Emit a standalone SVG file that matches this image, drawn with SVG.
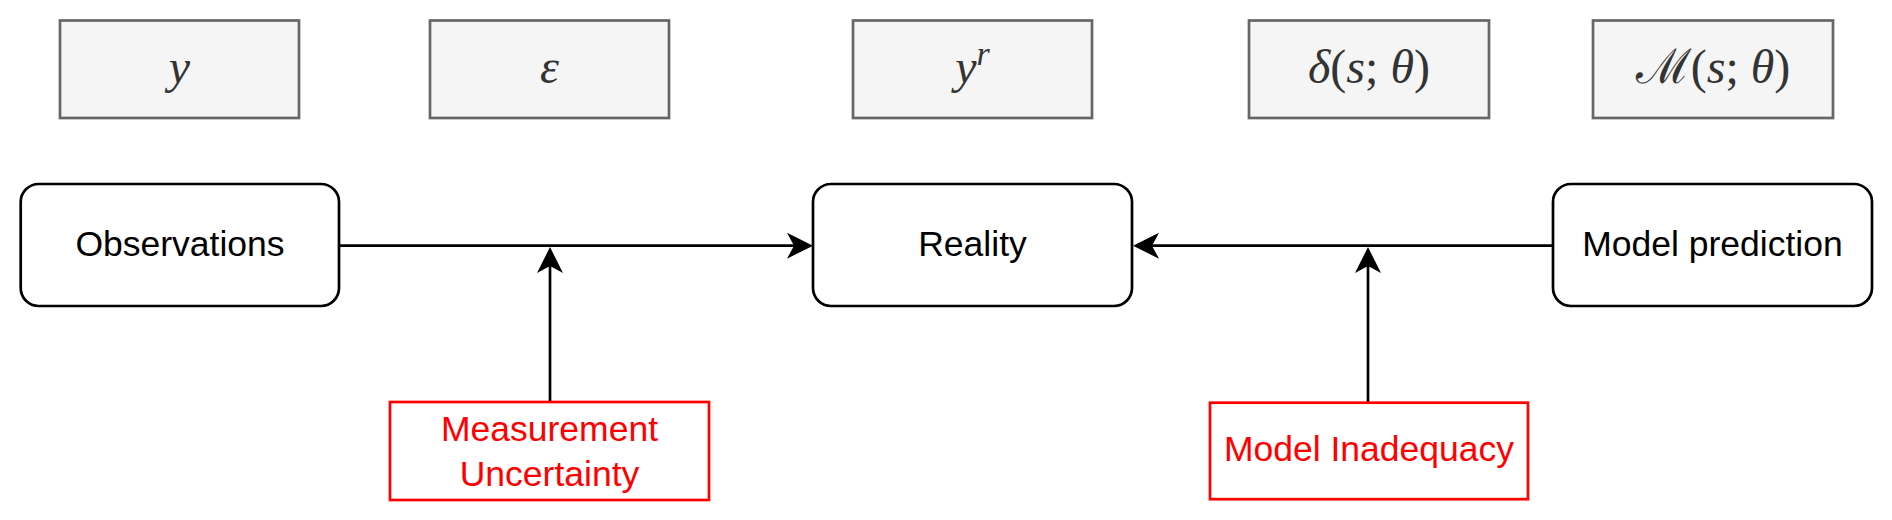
<svg xmlns="http://www.w3.org/2000/svg" width="1892" height="520" viewBox="0 0 1892 520">
  <style>
    .var { fill: #f5f5f5; stroke: #666666; stroke-width: 2.7; }
    .math { font-family: "Liberation Serif", "DejaVu Serif", serif; font-size: 48px; fill: #333333; text-anchor: middle; }
    .it { font-style: italic; }
    .node { fill: #ffffff; stroke: #000000; stroke-width: 2.7; }
    .lbl { font-family: "Liberation Sans", Arial, sans-serif; font-size: 35.5px; fill: #000000; text-anchor: middle; }
    .err { fill: #ffffff; stroke: #ff0000; stroke-width: 2.7; }
    .errlbl { font-family: "Liberation Sans", Arial, sans-serif; font-size: 35.5px; fill: #ff0000; text-anchor: middle; }
    .conn { fill: none; stroke: #000000; stroke-width: 2.7; }
  </style>
  <defs>
    <marker id="arrow" markerUnits="userSpaceOnUse" markerWidth="30" markerHeight="30" viewBox="-1 -15 30 30" refX="7" refY="0" orient="auto">
      <path d="M0,-13 L26,0 L0,13 L7,0 Z" fill="#000000" stroke="none"/>
    </marker>
  </defs>

  <g id="var-y">
    <rect class="var" x="60" y="20.5" width="239" height="97.5"/>
    <text class="math" x="179.5" y="83"><tspan class="it">y</tspan></text>
  </g>
  <g id="var-eps">
    <rect class="var" x="430" y="20.5" width="239" height="97.5"/>
    <text class="math" x="549.5" y="83"><tspan class="it">ε</tspan></text>
  </g>
  <g id="var-yr">
    <rect class="var" x="853" y="20.5" width="239" height="97.5"/>
    <text class="math" x="972.5" y="83"><tspan class="it">y</tspan><tspan class="it" dy="-18" font-size="34">r</tspan></text>
  </g>
  <g id="var-delta">
    <rect class="var" x="1249" y="20.5" width="240" height="97.5"/>
    <text class="math" x="1369" y="83"><tspan class="it">δ</tspan>(<tspan class="it">s</tspan>; <tspan class="it">θ</tspan>)</text>
  </g>
  <g id="var-model">
    <rect class="var" x="1593" y="20.5" width="240" height="97.5"/>
    <text class="math" x="1713" y="83">ℳ(<tspan class="it">s</tspan>; <tspan class="it">θ</tspan>)</text>
  </g>

  <g id="connectors">
    <path class="conn" d="M339,245.7 L794,245.7" marker-end="url(#arrow)"/>
    <path class="conn" d="M1553,245.7 L1152,245.7" marker-end="url(#arrow)"/>
    <path class="conn" d="M550,402 L550,266" marker-end="url(#arrow)"/>
    <path class="conn" d="M1368,402.7 L1368,266" marker-end="url(#arrow)"/>
  </g>

  <g id="observations">
    <rect class="node" x="20.7" y="184" width="318.3" height="122" rx="18" ry="18"/>
    <text class="lbl" x="180" y="256">Observations</text>
  </g>
  <g id="reality">
    <rect class="node" x="813" y="184" width="319" height="122" rx="18" ry="18"/>
    <text class="lbl" x="972.5" y="256">Reality</text>
  </g>
  <g id="model-prediction">
    <rect class="node" x="1553" y="184" width="319" height="122" rx="18" ry="18"/>
    <text class="lbl" x="1712.5" y="256">Model prediction</text>
  </g>

  <g id="measurement-uncertainty">
    <rect class="err" x="390" y="402" width="319" height="98"/>
    <text class="errlbl" x="549.5" y="441">Measurement</text>
    <text class="errlbl" x="549.5" y="486">Uncertainty</text>
  </g>
  <g id="model-inadequacy">
    <rect class="err" x="1210" y="402.7" width="318" height="96.5"/>
    <text class="errlbl" x="1369" y="461">Model Inadequacy</text>
  </g>
</svg>
